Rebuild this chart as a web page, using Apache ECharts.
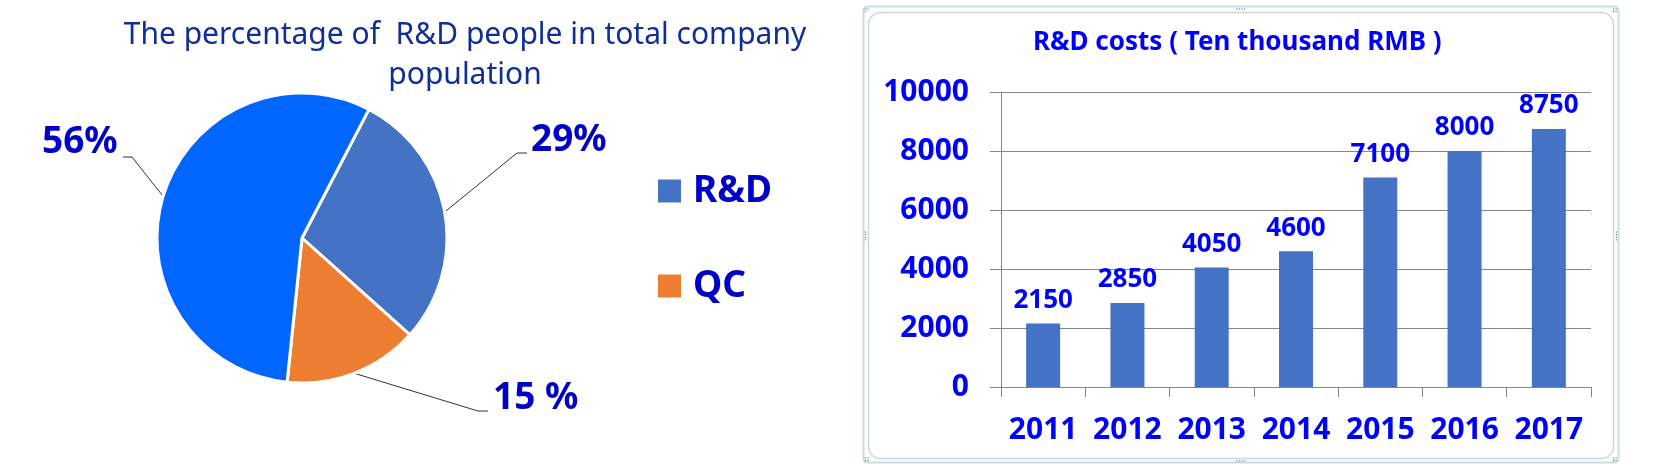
<!DOCTYPE html>
<html>
<head>
<meta charset="utf-8">
<script src="https://cdn.jsdelivr.net/npm/echarts@6/dist/echarts.min.js"></script>
<style>
html,body{margin:0;padding:0;background:#fff;}
#chart{width:1656px;height:472px;}
</style>
</head>
<body>
<div id="chart"></div>
<script>
// ---- data ----
var pieTitle = 'The percentage of  R&D people in total company\npopulation';
var pieNames = ['R&D', 'QC', 'Others'];
var pieValues = [29, 15, 56];
var pieLabels = ['29%', '15 %', '56%'];
var legendNames = ['R&D', 'QC'];

var barTitle = 'R&D costs ( Ten thousand RMB )';
var years = ['2011', '2012', '2013', '2014', '2015', '2016', '2017'];
var costs = [2150, 2850, 4050, 4600, 7100, 8000, 8750];
var yTicks = [0, 2000, 4000, 6000, 8000, 10000];

// ---- styles / layout ----
var pieColors = ['#4472C4', '#ED7D31', '#0066FF'];
var pieCenter = [302, 238];
var pieRadius = 145;
var pieStartDeg = 27.5; // clockwise from 12 o'clock
var labelBlue = '#0000C8';
var barBlue = '#0000FF';
var gridGrey = '#868686';
var pieLabelPlace = [
  {x: 531, y: 140, align: 'left', corner: [517, 153], end: [527, 153]},
  {x: 493, y: 398, align: 'left', corner: [478, 411], end: [488, 411]},
  {x: 42, y: 142, align: 'left', corner: [132, 157], end: [123, 157]}
];

var total = pieValues.reduce(function (a, b) { return a + b; }, 0);
function edgePoint(i) {
  var acc = 0;
  for (var k = 0; k < i; k++) acc += pieValues[k];
  var midDeg = pieStartDeg + (acc + pieValues[i] / 2) / total * 360;
  var rad = midDeg * Math.PI / 180;
  return [pieCenter[0] + pieRadius * Math.sin(rad), pieCenter[1] - pieRadius * Math.cos(rad)];
}

var chart = echarts.init(document.getElementById('chart'));

function dots(cx, cy, n, horizontal) {
  var arr = [];
  for (var i = 0; i < n; i++) {
    arr.push({
      type: 'circle',
      shape: {cx: cx + (horizontal ? i * 2.6 : 0), cy: cy + (horizontal ? 0 : i * 2.6), r: 0.8},
      style: {fill: '#7d8f96'},
      silent: true
    });
  }
  return arr;
}

var graphics = [
  {type: 'rect', shape: {x: 863.5, y: 6.5, width: 755, height: 456, r: 4},
   style: {fill: 'none', stroke: '#C6DFE4', lineWidth: 2}, silent: true, z: -1},
  {type: 'rect', shape: {x: 868.5, y: 12.5, width: 745, height: 446, r: 12},
   style: {fill: 'none', stroke: '#CCD8DB', lineWidth: 1.5}, silent: true, z: -1}
];
graphics = graphics
  .concat(dots(1237, 9, 4, true))
  .concat(dots(1237, 461, 4, true))
  .concat(dots(865.5, 232, 4, false))
  .concat(dots(1616.5, 232, 4, false))
  .concat(dots(865.5, 9, 2, true)).concat(dots(865.5, 11.6, 1, true))
  .concat(dots(1613.5, 9, 2, true)).concat(dots(1613.5, 11.6, 2, true))
  .concat(dots(1613.5, 458, 2, true)).concat(dots(1613.5, 460.6, 2, true))
  .concat(dots(865.5, 458, 2, true)).concat(dots(865.5, 460.6, 2, true));

var option = {
  backgroundColor: '#ffffff',
  animation: false,
  title: [
    {
      text: pieTitle,
      left: 465,
      top: 15,
      padding: 0,
      textAlign: 'center',
      textStyle: {
        fontFamily: 'Noto Sans',
        fontWeight: 'normal',
        fontSize: 30,
        lineHeight: 40,
        color: '#0E2E9A'
      }
    },
    {
      text: barTitle,
      left: 1033,
      top: 30,
      padding: 0,
      textStyle: {
        fontFamily: 'Noto Sans',
        fontWeight: 'bold',
        fontSize: 26,
        color: barBlue
      }
    }
  ],
  legend: {
    data: legendNames,
    orient: 'vertical',
    left: 658,
    top: 171,
    padding: 0,
    itemWidth: 23,
    itemHeight: 23,
    itemGap: 55,
    icon: 'rect',
    itemStyle: {borderWidth: 0},
    selectedMode: false,
    textStyle: {
      fontFamily: 'Noto Sans',
      fontWeight: 'bold',
      fontSize: 37,
      lineHeight: 40,
      color: labelBlue,
      padding: [0, 0, 0, 7]
    }
  },
  grid: {
    left: 1001,
    right: 65,
    top: 92,
    bottom: 85,
    containLabel: false
  },
  xAxis: {
    type: 'category',
    data: years,
    axisLine: {show: true, lineStyle: {color: gridGrey, width: 1}},
    axisTick: {show: true, length: 10, lineStyle: {color: gridGrey}},
    axisLabel: {
      interval: 0,
      margin: 28,
      fontFamily: 'Noto Sans',
      fontWeight: 'bold',
      fontSize: 30,
      color: barBlue
    }
  },
  yAxis: {
    type: 'value',
    min: yTicks[0],
    max: yTicks[yTicks.length - 1],
    interval: yTicks[1] - yTicks[0],
    axisLine: {show: true, lineStyle: {color: gridGrey, width: 1}},
    axisTick: {show: true, length: 11, lineStyle: {color: gridGrey}},
    splitLine: {show: true, lineStyle: {color: gridGrey, width: 1}},
    axisLabel: {
      margin: 32,
      formatter: function (v) { return String(v); },
      fontFamily: 'Noto Sans',
      fontWeight: 'bold',
      fontSize: 30,
      color: barBlue
    }
  },
  graphic: graphics,
  series: [
    {
      type: 'bar',
      data: costs,
      barWidth: 34,
      itemStyle: {color: '#4472C4'},
      label: {
        show: true,
        position: 'top',
        distance: 10,
        fontFamily: 'Noto Sans',
        fontWeight: 'bold',
        fontSize: 26,
        color: barBlue
      }
    },
    {
      type: 'pie',
      center: pieCenter,
      radius: pieRadius,
      startAngle: 90 - pieStartDeg,
      clockwise: true,
      avoidLabelOverlap: false,
      data: pieNames.map(function (n, i) {
        return {name: n, value: pieValues[i], itemStyle: {color: pieColors[i]}};
      }),
      itemStyle: {borderColor: '#ffffff', borderWidth: 3},
      label: {
        show: true,
        position: 'outside',
        formatter: function (p) { return pieLabels[p.dataIndex]; },
        fontFamily: 'Noto Sans',
        fontWeight: 'bold',
        fontSize: 37,
        color: labelBlue
      },
      labelLine: {
        show: true,
        length: 20,
        length2: 10,
        lineStyle: {color: '#333333', width: 1}
      },
      labelLayout: function (params) {
        var c = pieLabelPlace[params.dataIndex];
        return {
          x: c.x,
          y: c.y,
          align: c.align,
          verticalAlign: 'middle',
          labelLinePoints: [edgePoint(params.dataIndex), c.corner, c.end]
        };
      },
      emphasis: {disabled: true}
    }
  ]
};
chart.setOption(option);
</script>
</body>
</html>
